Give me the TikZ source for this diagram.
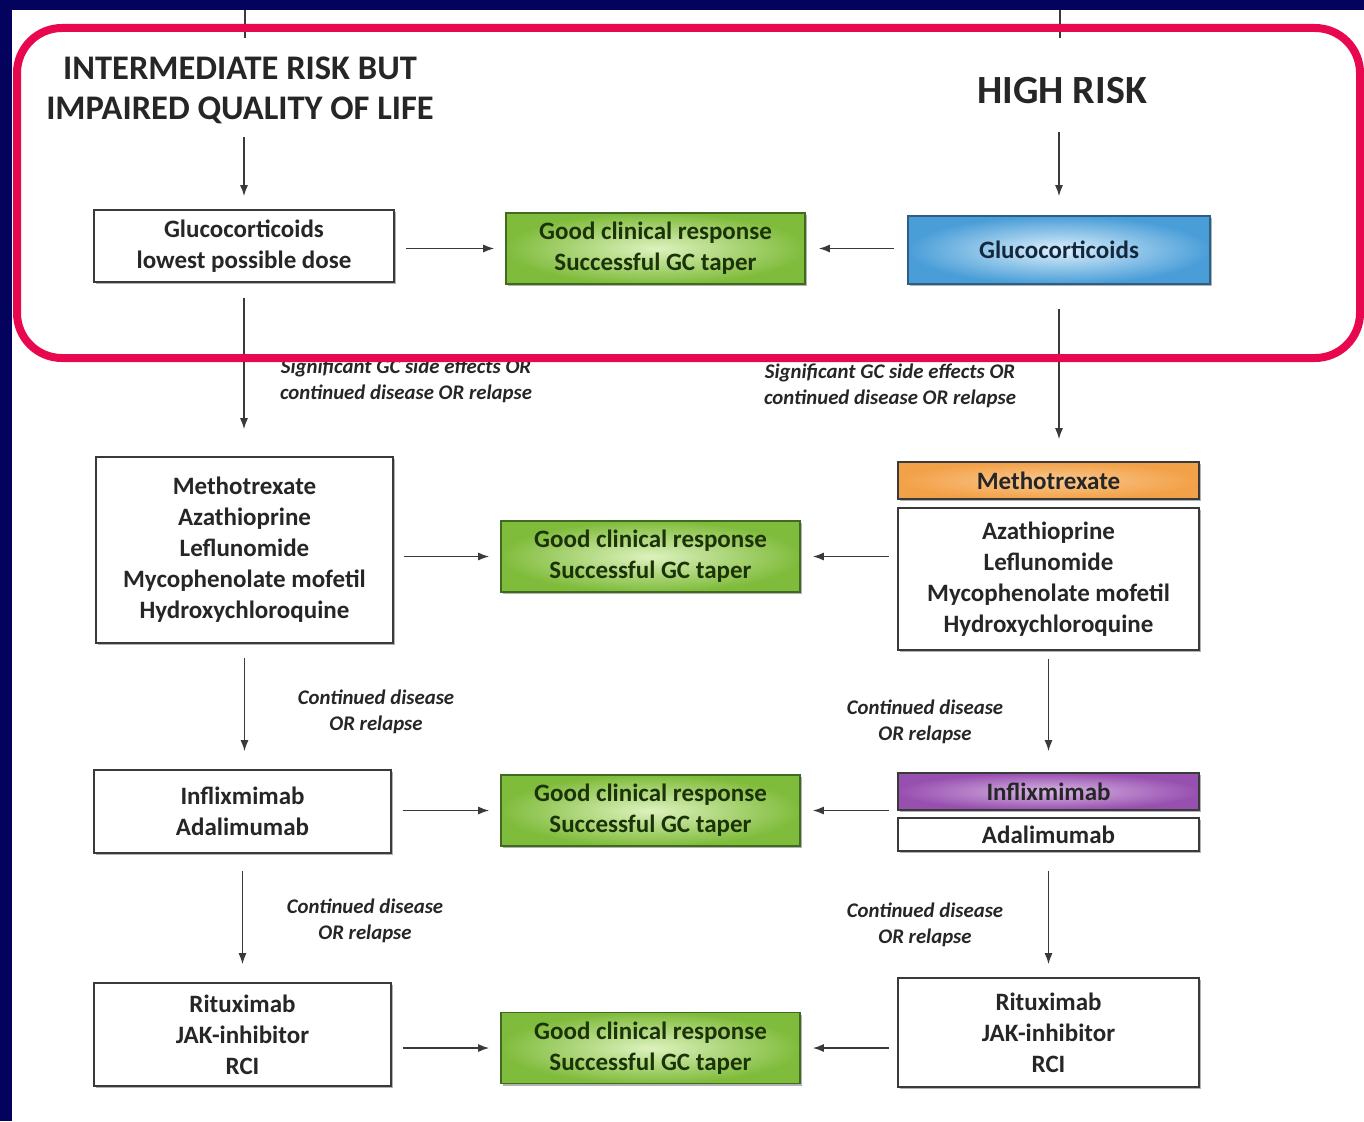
\documentclass[tikz,border=0pt]{standalone}
\usepackage{fontspec}
\setmainfont{Carlito}
\usetikzlibrary{shadows,arrows.meta}

\definecolor{slidenavy}{HTML}{03035E}
\definecolor{hilite}{HTML}{E8084F}
\definecolor{boxline}{HTML}{3A3A3A}
\definecolor{inktext}{HTML}{262626}
\definecolor{greenout}{HTML}{80BC3C}
\definecolor{greenin}{HTML}{DDF2BE}
\definecolor{greenline}{HTML}{3F6A1F}
\definecolor{greentext}{HTML}{1C3308}
\definecolor{blueout}{HTML}{4A9ED8}
\definecolor{bluein}{HTML}{DDF0FB}
\definecolor{blueline}{HTML}{2D5E86}
\definecolor{bluetext}{HTML}{13283F}
\definecolor{orangeout}{HTML}{F3A148}
\definecolor{orangein}{HTML}{FAC990}
\definecolor{purpleout}{HTML}{9850B0}
\definecolor{purplein}{HTML}{D7B6E3}

\newcommand\boxfont{\fontsize{25}{31}\selectfont\bfseries}
\newcommand\labfont{\fontsize{20.8}{25.5}\selectfont\bfseries\itshape}
\newcommand\headfont{\fontsize{34.5}{40}\selectfont\bfseries}
\newcommand\bighead{\fontsize{40}{44}\selectfont\bfseries}

\begin{document}
\begin{tikzpicture}[x=1pt,y=-1pt,
  plainbox/.style={draw=boxline, line width=1.6pt, fill=white, align=center,
    inner sep=0pt, font=\boxfont, text=inktext,
    drop shadow={shadow xshift=2pt, shadow yshift=-2pt, fill=black, opacity=0.3}},
  greenbox/.style={plainbox, draw=greenline, inner color=greenin, outer color=greenout,
    text=greentext, minimum width=299pt, minimum height=71pt},
  head/.style={font=\headfont, text=inktext, align=center},
  cond/.style={font=\labfont, text=inktext, align=center},
  arr/.style={draw=boxline, line width=1.5pt, -{Latex[length=11pt,width=8pt]}},
  feed/.style={draw=boxline, line width=1.5pt}
]
\useasboundingbox (0,0) rectangle (1364,1121);

% slide frame
\fill[slidenavy] (0,0) rectangle (1364,1121);
\fill[white] (12,10) rectangle (1364,1121);

% lines coming in from above
\coordinate (inL) at (245,10);
\coordinate (inR) at (1060,10);
\draw[feed] (inL) -- ++(0,28);
\draw[feed] (inR) -- ++(0,28);

% headings
\node[head] (tl) at (240,90) {INTERMEDIATE RISK BUT\\IMPAIRED QUALITY OF LIFE};
\node[head, font=\bighead] (thr) at (1062,91) {HIGH RISK};

% row 1
\node[plainbox, minimum width=300pt, minimum height=72pt] (b1L) at (244,246)
  {Glucocorticoids\\lowest possible dose};
\node[greenbox] (g1) at (655.5,248.5) {Good clinical response\\Successful GC taper};
\node[plainbox, draw=blueline, inner color=bluein, outer color=blueout, text=bluetext,
  minimum width=302pt, minimum height=68pt] (b1R) at (1059,250) {Glucocorticoids};

% row 2
\node[plainbox, minimum width=297pt, minimum height=186pt] (b2L) at (244.5,550)
  {Methotrexate\\Azathioprine\\Leflunomide\\Mycophenolate mofetil\\Hydroxychloroquine};
\node[greenbox] (g2) at (650.5,556.5) {Good clinical response\\Successful GC taper};
\node[plainbox, inner color=orangein, outer color=orangeout,
  minimum width=301pt, minimum height=37pt] (mtx) at (1048.5,480.5) {Methotrexate};
\node[plainbox, minimum width=301pt, minimum height=142pt] (b2R) at (1048.5,579)
  {Azathioprine\\Leflunomide\\Mycophenolate mofetil\\Hydroxychloroquine};

% row 3
\node[plainbox, minimum width=297pt, minimum height=83pt] (b3L) at (242.5,811.5)
  {Inflixmimab\\Adalimumab};
\node[greenbox] (g3) at (650.5,810.5) {Good clinical response\\Successful GC taper};
\node[plainbox, inner color=purplein, outer color=purpleout,
  minimum width=301pt, minimum height=37pt] (inf) at (1048.5,791.5) {Inflixmimab};
\node[plainbox, minimum width=301pt, minimum height=33pt] (ada) at (1048.5,834.5)
  {Adalimumab};

% row 4
\node[plainbox, minimum width=297pt, minimum height=103pt] (b4L) at (242.5,1034.5)
  {Rituximab\\JAK-inhibitor\\RCI};
\node[greenbox] (g4) at (650.5,1048) {Good clinical response\\Successful GC taper};
\node[plainbox, minimum width=301pt, minimum height=109pt] (b4R) at (1048.5,1032.5)
  {Rituximab\\JAK-inhibitor\\RCI};

% condition labels
\node[cond] (c1L) at (406,381) {Significant GC side effects OR\\continued disease OR relapse};
\node[cond] (c1R) at (890,386) {Significant GC side effects OR\\continued disease OR relapse};
\node[cond] (c2L) at (376,712) {Continued disease\\OR relapse};
\node[cond] (c2R) at (925,722) {Continued disease\\OR relapse};
\node[cond] (c3L) at (365,921) {Continued disease\\OR relapse};
\node[cond] (c3R) at (925,925) {Continued disease\\OR relapse};

% downward steps, left column
\draw[arr, shorten <=10pt, shorten >=13pt] (tl.south -| b1L.north) -- (b1L.north);
\draw[arr, shorten <=15pt, shorten >=27pt] (b1L.south) -- (b1L.south |- b2L.north);
\draw[arr, shorten <=14pt, shorten >=18pt] (b2L.south) -- (b2L.south |- b3L.north);
\draw[arr, shorten <=17pt, shorten >=18pt] (b3L.south) -- (b3L.south |- b4L.north);

% downward steps, right column
\draw[arr, shorten <=24pt, shorten >=19pt] (thr.south -| b1R.north) -- (b1R.north);
\draw[arr, shorten <=24pt, shorten >=22pt] (b1R.south) -- (b1R.south |- mtx.north);
\draw[arr, shorten <=8pt, shorten >=21pt] (b2R.south) -- (b2R.south |- inf.north);
\draw[arr, shorten <=19pt, shorten >=13pt] (ada.south) -- (ada.south |- b4R.north);

% towards the response boxes
\draw[arr, shorten <=11pt, shorten >=11pt] (b1L.east |- g1.west) -- (g1.west);
\draw[arr, shorten <=13pt, shorten >=13pt] (b1R.west |- g1.east) -- (g1.east);
\draw[arr, shorten <=10pt, shorten >=11pt] (b2L.east |- g2.west) -- (g2.west);
\draw[arr, shorten <=8pt, shorten >=12pt] (b2R.west |- g2.east) -- (g2.east);
\draw[arr, shorten <=11pt, shorten >=11pt] (b3L.east |- g3.west) -- (g3.west);
\draw[arr, shorten <=8pt, shorten >=12pt] (inf.south west |- g3.east) -- (g3.east);
\draw[arr, shorten <=11pt, shorten >=11pt] (b4L.east |- g4.west) -- (g4.west);
\draw[arr, shorten <=8pt, shorten >=12pt] (b4R.west |- g4.east) -- (g4.east);

% highlight frame round the first step
\draw[hilite, line width=8pt, rounded corners=45pt] (17,28) rectangle (1360,358);
\end{tikzpicture}
\end{document}
